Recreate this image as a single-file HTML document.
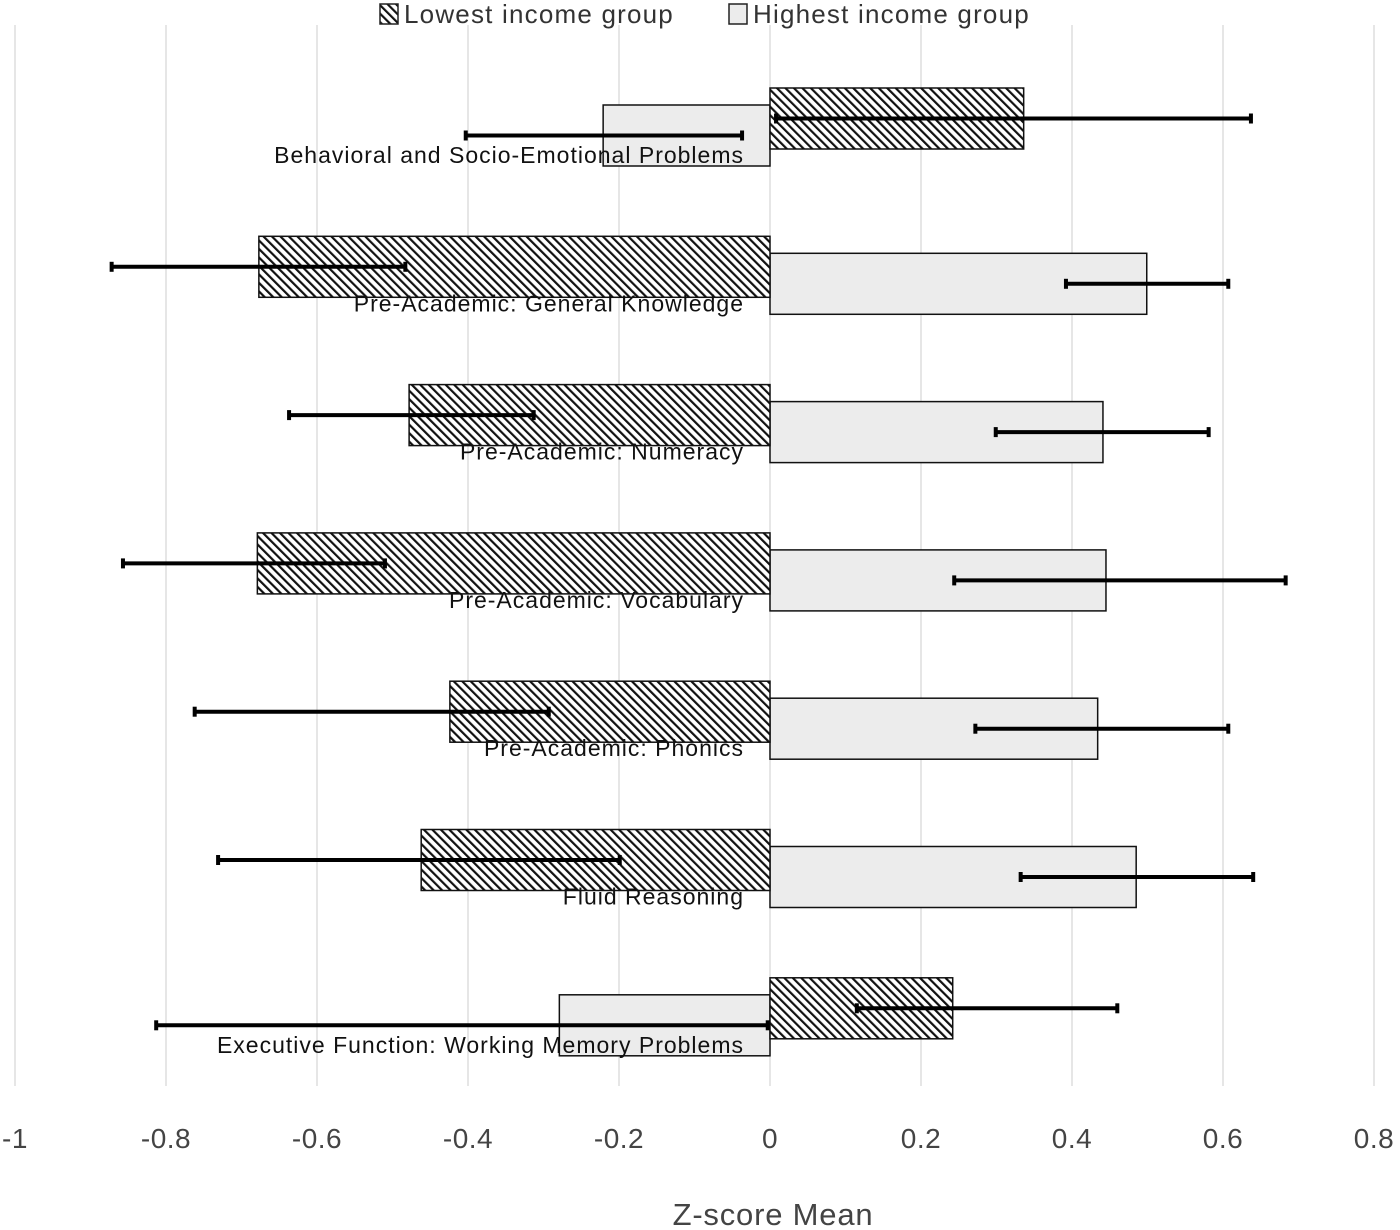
<!DOCTYPE html>
<html><head><meta charset="utf-8"><style>
html,body{margin:0;padding:0;background:#fff;}
svg{display:block;font-family:"Liberation Sans",sans-serif;}
</style></head><body>
<svg id="chart" width="1400" height="1230" viewBox="0 0 1400 1230">
<defs>
<pattern id="hatch" patternUnits="userSpaceOnUse" width="6" height="6" patternTransform="rotate(-45)">
<rect width="6" height="6" fill="#fff"/><rect x="0" y="0" width="2.2" height="6" fill="#111"/>
</pattern>
</defs>
<g id="grid"></g><g id="bars"></g><g id="labels"></g><g id="ticks"></g>
<text x="773" y="1225" text-anchor="middle" font-size="31" letter-spacing="0.8" fill="#444">Z-score Mean</text>
<g>
<rect x="380" y="4" width="18" height="20" fill="url(#hatch)" stroke="#222" stroke-width="1.5"/>
<text x="404" y="23" font-size="26" letter-spacing="1.2" fill="#333">Lowest income group</text>
<rect x="729" y="4" width="18" height="20" fill="#ececec" stroke="#222" stroke-width="1.5"/>
<text x="753" y="23" font-size="26" letter-spacing="1.2" fill="#333">Highest income group</text>
</g>
</svg>
<script>
const categories=["Behavioral and Socio-Emotional Problems","Pre-Academic: General Knowledge","Pre-Academic: Numeracy","Pre-Academic: Vocabulary","Pre-Academic: Phonics","Fluid Reasoning","Executive Function: Working Memory Problems"];
const lowestValues=[0.336,-0.677,-0.478,-0.679,-0.424,-0.462,0.242];
const lowestErrLo=[0.008,-0.872,-0.637,-0.857,-0.762,-0.731,0.115];
const lowestErrHi=[0.637,-0.483,-0.313,-0.510,-0.293,-0.199,0.460];
const highestValues=[-0.221,0.499,0.441,0.445,0.434,0.485,-0.279];
const highestErrLo=[-0.403,0.392,0.299,0.244,0.272,0.332,-0.813];
const highestErrHi=[-0.037,0.607,0.581,0.683,0.607,0.640,-0.003];
const tickValues=[-1,-0.8,-0.6,-0.4,-0.2,0,0.2,0.4,0.6,0.8];
const tickLabels=["-1","-0.8","-0.6","-0.4","-0.2","0","0.2","0.4","0.6","0.8"];

const NS="http://www.w3.org/2000/svg";
const x=v=>770+v*755;
const groupY=i=>88+i*148.3;
function mk(tag,attrs,parent){const e=document.createElementNS(NS,tag);for(const k in attrs)e.setAttribute(k,attrs[k]);parent.appendChild(e);return e;}
const grid=document.getElementById('grid'),bars=document.getElementById('bars'),labels=document.getElementById('labels'),ticks=document.getElementById('ticks');
tickValues.forEach((t,i)=>{
  const g=mk('line',{x1:x(t),x2:x(t),y1:25,y2:1086,stroke:'#d9d9d9','stroke-width':1.3},grid);
  
  
  const tx=mk('text',{x:x(t),y:1148,'text-anchor':'middle','font-size':28,'letter-spacing':0.5,fill:'#444'},ticks);
  tx.textContent=tickLabels[i];
  
  
});
function errBar(lo,hi,cy,parent){
  const l=mk('line',{x1:x(lo),x2:x(hi),y1:cy,y2:cy,stroke:'#000','stroke-width':4},parent);
  
  
  [lo,hi].forEach(v=>{mk('line',{x1:x(v),x2:x(v),y1:cy-5,y2:cy+5,stroke:'#000','stroke-width':4},parent);});
}
categories.forEach((c,i)=>{
  const y0=groupY(i),h=61,off=17;
  const lv=lowestValues[i],hv=highestValues[i];
  const hb=mk('rect',{x:Math.min(x(0),x(hv)),y:y0+off,width:Math.abs(x(hv)-x(0)),height:h,fill:'#ececec',stroke:'#111','stroke-width':1.5},bars);
  
  
  const lb=mk('rect',{x:Math.min(x(0),x(lv)),y:y0,width:Math.abs(x(lv)-x(0)),height:h,fill:'url(#hatch)',stroke:'#111','stroke-width':1.5},bars);
  
  
  errBar(lowestErrLo[i],lowestErrHi[i],y0+h/2,bars);
  errBar(highestErrLo[i],highestErrHi[i],y0+off+h/2,bars);
  const t=mk('text',{x:744,y:y0+75,'text-anchor':'end','font-size':23,'letter-spacing':1,fill:'#111'},labels);
  t.textContent=c;
  
  
});
</script>
</body></html>
